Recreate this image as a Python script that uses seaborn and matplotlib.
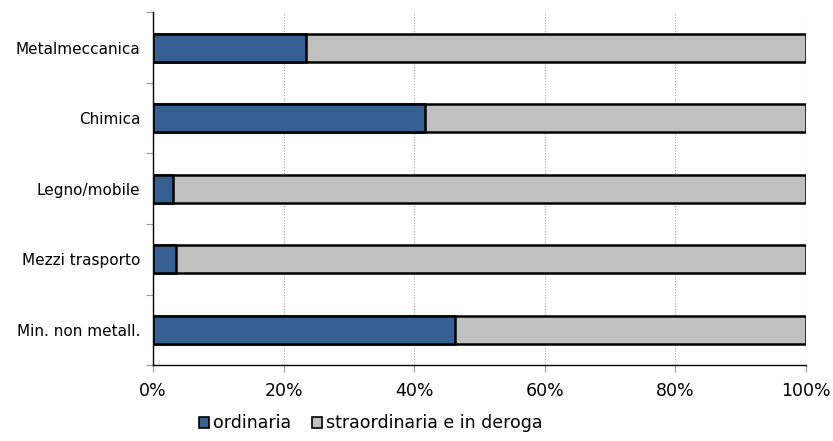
import matplotlib
matplotlib.use("Agg")
import matplotlib.pyplot as plt
import seaborn as sns
import pandas as pd
from matplotlib.patches import Patch
from matplotlib.ticker import FuncFormatter

sectors = ["Metalmeccanica", "Chimica", "Legno/mobile", "Mezzi trasporto", "Min. non metall."]
ordinaria = [23.4, 41.6, 3.1, 3.5, 46.2]
straordinaria = [76.6, 58.4, 96.9, 96.5, 53.8]
x_ticks = [0, 20, 40, 60, 80, 100]

blue = "#366092"
grey = "#C0C0C0"

df = pd.DataFrame({"settore": sectors, "ordinaria": ordinaria, "straordinaria": straordinaria})
df["totale"] = df["ordinaria"] + df["straordinaria"]

sns.set_theme(style="white")
plt.rcParams["font.family"] = ["DejaVu Sans"]

fig = plt.figure(figsize=(8.33, 4.41), dpi=100)
ax = fig.add_axes([0.1837, 0.172, 0.7840, 0.800])

sns.barplot(data=df, x="totale", y="settore", orient="h", color=grey, width=0.4,
            edgecolor="black", linewidth=1.8, saturation=1, ax=ax, zorder=3)
sns.barplot(data=df, x="ordinaria", y="settore", orient="h", color=blue, width=0.4,
            edgecolor="black", linewidth=1.8, saturation=1, ax=ax, zorder=4)

ax.set_xlim(0, 100)
ax.set_ylim(4.5, -0.5)
ax.set_xticks(x_ticks)
ax.xaxis.set_major_formatter(FuncFormatter(lambda v, p: f"{int(v)}%"))
ax.set_xlabel("")
ax.set_ylabel("")

ax.grid(axis="x", color="#A6A6A6", linestyle=(0, (1, 1.5)), linewidth=0.8, zorder=0)
ax.set_axisbelow(True)

for s in ["top", "right"]:
    ax.spines[s].set_visible(False)
for s in ["left", "bottom"]:
    ax.spines[s].set_color("black")
    ax.spines[s].set_linewidth(1.0)

# category ticks sit between the bars
ax.set_yticks([i - 0.5 for i in range(len(sectors) + 1)], minor=True)
ax.tick_params(axis="y", which="minor", length=5, width=0.8, color="#999999", direction="out", left=True)
ax.tick_params(axis="y", which="major", length=0, labelsize=11, pad=9, colors="black")
ax.tick_params(axis="x", which="major", length=5, width=0.8, color="#999999", direction="out",
               bottom=True, labelsize=12.5, pad=7, colors="black")

handles = [Patch(facecolor=blue, edgecolor="black", linewidth=1.2, label="ordinaria"),
           Patch(facecolor=grey, edgecolor="black", linewidth=1.2, label="straordinaria e in deroga")]
fig.legend(handles=handles, loc="lower center", bbox_to_anchor=(0.445, -0.012), ncol=2, frameon=False,
           fontsize=12.5, labelcolor="black", handlelength=0.6, handleheight=0.6, handletextpad=0.2,
           columnspacing=1.2, borderpad=0.3)

fig.savefig("out.png", dpi=100)
